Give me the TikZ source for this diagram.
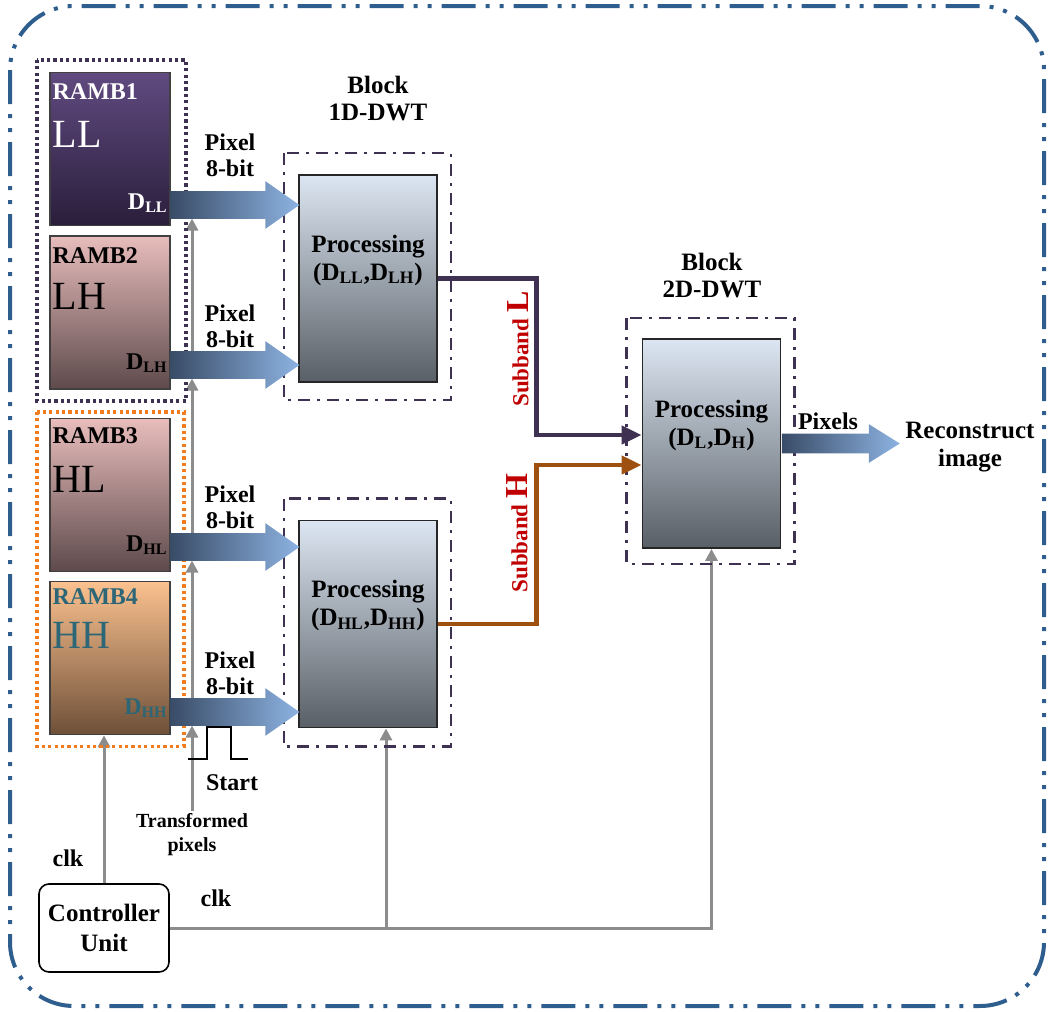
\documentclass[tikz,border=0pt]{standalone}
\usepackage{fontspec}
\setmainfont{Liberation Serif}
\usetikzlibrary{shapes.arrows, positioning, arrows.meta, calc}

\definecolor{frameBlue}{HTML}{2E5E8E}
\definecolor{grpPurple}{HTML}{3F3151}
\definecolor{grpOrange}{HTML}{F07C1E}
\definecolor{ramATop}{HTML}{604A80}
\definecolor{ramABot}{HTML}{2A1E3B}
\definecolor{ramBTop}{HTML}{E8BDBC}
\definecolor{ramBBot}{HTML}{5E4A4B}
\definecolor{ramCTop}{HTML}{FBC18F}
\definecolor{ramCBot}{HTML}{6E5038}
\definecolor{tealTxt}{HTML}{2D6676}
\definecolor{procTop}{HTML}{DCE6F2}
\definecolor{procBot}{HTML}{595F66}
\definecolor{arrL}{HTML}{394C67}
\definecolor{arrR}{HTML}{8DB3E2}
\definecolor{clkGray}{HTML}{8C8C8C}
\definecolor{subH}{HTML}{9E5010}
\definecolor{redTxt}{HTML}{C00000}

\pgfdeclarelayer{background}
\pgfsetlayers{background,main}

\begin{document}
\begin{tikzpicture}[
    x=0.5pt, y=-0.5pt,
    font=\bfseries\fontsize{12}{13}\selectfont,
    ramb/.style={draw=black!75, line width=0.8pt, minimum width=60pt, minimum height=76.5pt, inner sep=0pt},
    rambname/.style={anchor=west, inner sep=1pt},
    rambbig/.style={anchor=west, inner sep=1pt, font=\mdseries\fontsize{20}{20}\selectfont},
    rambport/.style={anchor=east, inner sep=1pt},
    grpframe/.style={line width=1.8pt, dash pattern=on 1.6pt off 1.6pt},
    procbox/.style={draw=black!85, line width=0.9pt, top color=procTop, bottom color=procBot, minimum width=69pt, minimum height=103.5pt, inner sep=0pt},
    proctext/.style={align=center, inner sep=1pt, font=\bfseries\fontsize{12.5}{14}\selectfont},
    blockframe/.style={draw=grpPurple, line width=1.3pt, dash pattern=on 6pt off 3.5pt on 1.5pt off 3.5pt},
    pixarrow/.style={single arrow, single arrow head extend=5pt, single arrow tip angle=70, inner xsep=0pt, inner ysep=6.75pt, minimum height=64.5pt, left color=arrL, right color=arrR, draw=none},
    clkline/.style={draw=clkGray, line width=1.5pt, -{Triangle[length=6pt,width=6pt]}},
    subband/.style={line width=2.2pt, -{Triangle[length=10pt,width=9pt]}},
    lbl/.style={align=center, inner sep=1pt}
]
    \useasboundingbox (0,0) rectangle (1051,1012);

    % outer frame
    \draw[frameBlue, line width=2pt, rounded corners=32pt, dash pattern=on 17pt off 5pt on 2pt off 5pt on 2pt off 5pt] (10,6) rectangle (1044,1006);

    % RAM blocks
    \node[ramb, top color=ramATop, bottom color=ramABot] (ramb1) at (110,149) {};
    \node[ramb, top color=ramBTop, bottom color=ramBBot] (ramb2) at (110,312.5) {};
    \node[ramb, top color=ramBTop, bottom color=ramBBot] (ramb3) at (110,495) {};
    \node[ramb, top color=ramCTop, bottom color=ramCBot] (ramb4) at (110,658) {};

    \node[rambname, white] (n1) at ($(ramb1.north west)+(1,20)$) {RAMB1};
    \node[rambbig, white] (s1) at ($(ramb1.north west)+(1,63)$) {LL};
    \node[rambport, white] (d1) at (170,203) {D\textsubscript{LL}};
    \node[rambname] (n2) at ($(ramb2.north west)+(1,20)$) {RAMB2};
    \node[rambbig] (s2) at ($(ramb2.north west)+(1,61)$) {LH};
    \node[rambport] (d2) at (170,363) {D\textsubscript{LH}};
    \node[rambname] (n3) at ($(ramb3.north west)+(1,18)$) {RAMB3};
    \node[rambbig] (s3) at ($(ramb3.north west)+(1,62)$) {HL};
    \node[rambport] (d3) at (170,545) {D\textsubscript{HL}};
    \node[rambname, tealTxt] (n4) at ($(ramb4.north west)+(1,16)$) {RAMB4};
    \node[rambbig, tealTxt] (s4) at ($(ramb4.north west)+(1,55)$) {HH};
    \node[rambport, tealTxt] (d4) at (170,708) {D\textsubscript{HH}};

    \draw[grpframe, draw=grpPurple] ($(ramb1.north west)+(-12,-12)$) rectangle ($(ramb2.south east)+(15,11)$);
    \draw[grpframe, draw=grpOrange] ($(ramb3.north west)+(-12,-6)$) rectangle ($(ramb4.south east)+(13,11)$);

    % processing blocks
    \node[procbox] (proc1) at (368,278.5) {};
    \node[procbox] (proc2) at (368,624) {};
    \node[procbox, minimum height=104.5pt] (proc2d) at (711.5,443.5) {};
    \node[proctext] (t1) at ($(proc1.north)+(0,86)$) {Processing\\(D\textsubscript{LL},D\textsubscript{LH})};
    \node[proctext] (t2) at ($(proc2.north)+(0,86)$) {Processing\\(D\textsubscript{HL},D\textsubscript{HH})};
    \node[proctext] (t3) at ($(proc2d.north)+(0,87)$) {Processing\\(D\textsubscript{L},D\textsubscript{H})};

    \draw[blockframe] ($(proc1.north west)+(-14,-21)$) rectangle ($(proc1.south east)+(13,17)$);
    \draw[blockframe] ($(proc2.north west)+(-14,-21)$) rectangle ($(proc2.south east)+(13,18)$);
    \draw[blockframe] ($(proc2d.north west)+(-15,-20)$) rectangle ($(proc2d.south east)+(13,15)$);

    \node[lbl, font=\bfseries\fontsize{12.5}{13.5}\selectfont] (blk1) at (378,99) {Block\\1D-DWT};
    \node[lbl, font=\bfseries\fontsize{12.5}{13.5}\selectfont] (blk2) at (712,276) {Block\\2D-DWT};

    % pixel arrows
    \node[pixarrow, anchor=tail] (a1) at (170,205) {};
    \node[pixarrow, anchor=tail] (a2) at (170,365) {};
    \node[pixarrow, anchor=tail] (a3) at (170,547) {};
    \node[pixarrow, anchor=tail] (a4) at (170,712) {};
    \node[lbl] (p1) at (230,155) {Pixel\\8-bit};
    \node[lbl] (p2) at (230,326) {Pixel\\8-bit};
    \node[lbl] (p3) at (230,507) {Pixel\\8-bit};
    \node[lbl] (p4) at (230,673) {Pixel\\8-bit};

    % start pulse and transformed pixels
    \draw[line width=0.8pt] (188,759) -- (207,759) -- (207,727) -- (231,727) -- (231,759) -- (248,759);
    \node[lbl] (start) at (232,783) {Start};
    \node[lbl, font=\bfseries\fontsize{10}{12}\selectfont] (tpix) at (192,835) {Transformed\\pixels};

    % controller
    \node[draw, line width=0.8pt, rounded corners=5pt, minimum width=65pt, minimum height=44pt, align=center, font=\bfseries\fontsize{12.5}{15}\selectfont] (ctrl) at (104,928) {Controller\\Unit};
    \node[lbl] (clk1) at (68,858) {clk};
    \node[lbl] (clk2) at (216,898) {clk};
    \coordinate (brk) at ($(proc2.south)+(18,0)$);

    \begin{pgfonlayer}{background}
        \draw[clkline] (tpix.north) -- ($(tpix.north |- a4.tail)+(0,13.5)$);
        \draw[clkline] (tpix.north |- a4.tail) -- ($(tpix.north |- a3.tail)+(0,13.5)$);
        \draw[clkline] (tpix.north |- a3.tail) -- ($(tpix.north |- a2.tail)+(0,13.5)$);
        \draw[clkline] (tpix.north |- a2.tail) -- ($(tpix.north |- a1.tail)+(0,13.5)$);
        \draw[clkline] (ctrl.north) -- (ctrl.north |- ramb4.south);
        \draw[clkline] (ctrl.east) -| (proc2d.south);
        \draw[clkline] (brk |- ctrl.east) -- (brk);
    \end{pgfonlayer}

    % subbands
    \draw[subband, grpPurple] (proc1.east) -| ($(proc2d.west)+(-105,-8.5)$) -- ($(proc2d.west)+(0,-8.5)$);
    \draw[subband, subH] (proc2.east) -| ($(proc2d.west)+(-105,21.5)$) -- ($(proc2d.west)+(0,21.5)$);
    \node[lbl, rotate=90, redTxt] (subl) at (518,349) {\fontsize{11.5}{12}\selectfont Subband \fontsize{16}{16}\selectfont L};
    \node[lbl, rotate=90, redTxt] (subh) at (517,533) {\fontsize{11.5}{12}\selectfont Subband \fontsize{16}{16}\selectfont H};

    % output
    \node[pixarrow, anchor=tail, minimum height=59pt, inner ysep=4.75pt, single arrow head extend=4.75pt, single arrow tip angle=64] (aout) at (proc2d.east) {};
    \node[lbl] (pxout) at (828,421) {Pixels};
    \node[lbl, font=\bfseries\fontsize{12.5}{14}\selectfont] (recon) at (970,447) {Reconstruct\\image};
\end{tikzpicture}
\end{document}
